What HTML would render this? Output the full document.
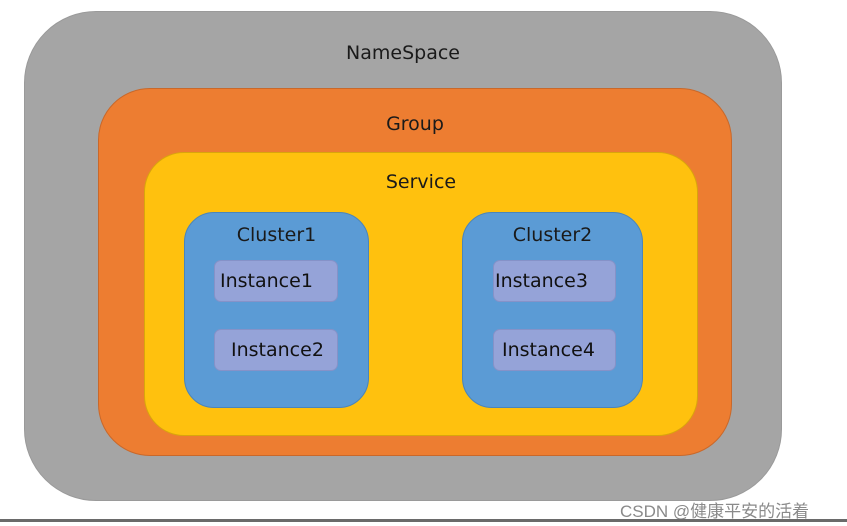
<!DOCTYPE html>
<html><head><meta charset="utf-8"><style>
html,body{margin:0;padding:0;}
body{width:847px;height:526px;position:relative;background:#fff;overflow:hidden;font-family:"DejaVu Sans","Liberation Sans",sans-serif;}
.b{position:absolute;box-sizing:border-box;}
.t{position:absolute;left:0;right:0;text-align:center;color:#1a1a1a;font-size:19px;}
.inst{position:absolute;box-sizing:border-box;background:#95a3d8;border:1px solid #8592c8;border-radius:7px;color:#111;font-size:19px;line-height:40px;}
</style></head><body>
<div class="b" style="left:24px;top:11px;width:758px;height:490px;background:#a5a5a5;border:1px solid #9a9a9a;border-radius:72px;">
  <div class="t" style="top:30px;">NameSpace</div>
</div>
<div class="b" style="left:98px;top:88px;width:634px;height:368px;background:#ed7d31;border:1px solid #c9682a;border-radius:52px;">
  <div class="t" style="top:24px;">Group</div>
</div>
<div class="b" style="left:144px;top:152px;width:554px;height:284px;background:#ffc10e;border:1px solid #d9a50c;border-radius:40px;">
  <div class="t" style="top:18px;">Service</div>
</div>
<div class="b" style="left:184px;top:212px;width:185px;height:196px;background:#5b9bd5;border:1px solid #4a85bb;border-radius:30px;">
  <div class="t" style="top:11px;">Cluster1</div>
</div>
<div class="b" style="left:462px;top:212px;width:181px;height:196px;background:#5b9bd5;border:1px solid #4a85bb;border-radius:30px;">
  <div class="t" style="top:11px;">Cluster2</div>
</div>
<div class="inst" style="left:214px;top:260px;width:124px;height:42px;padding-left:5px;">Instance1</div>
<div class="inst" style="left:214px;top:329px;width:124px;height:42px;padding-left:16px;">Instance2</div>
<div class="inst" style="left:493px;top:260px;width:123px;height:42px;padding-left:1px;">Instance3</div>
<div class="inst" style="left:493px;top:329px;width:123px;height:42px;padding-left:8px;">Instance4</div>
<div style="position:absolute;left:620px;top:497px;font-family:'Liberation Sans','Noto Sans CJK SC',sans-serif;font-size:17px;color:#8a8a8a;">CSDN @健康平安的活着</div>
<div style="position:absolute;left:0;top:519px;width:847px;height:3px;background:#6a6a6a;"></div>
</body></html>
